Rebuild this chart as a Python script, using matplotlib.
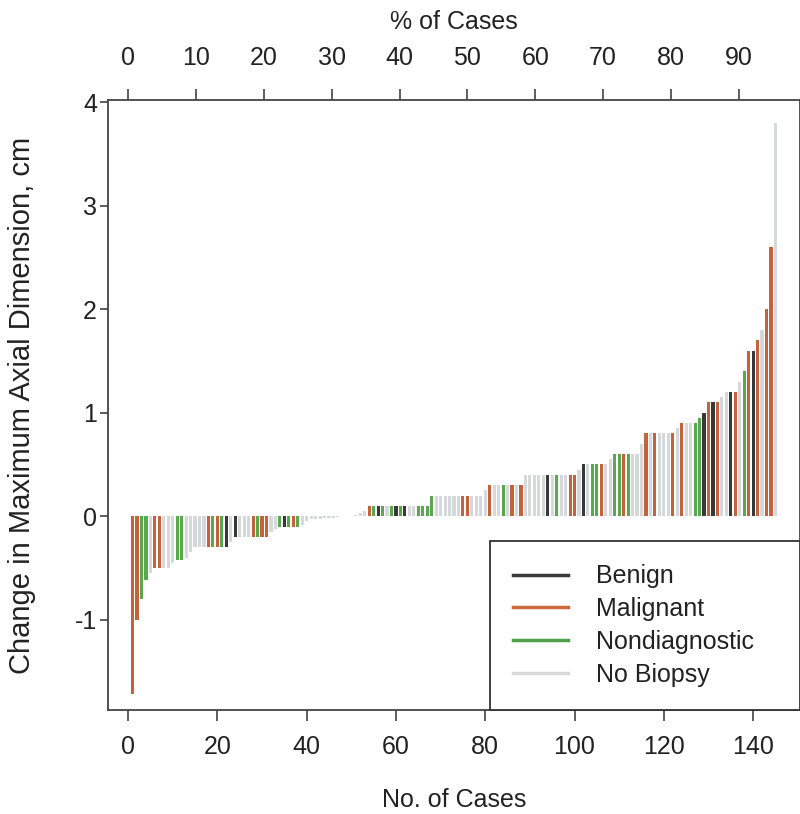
import matplotlib
matplotlib.use("Agg")
import matplotlib.pyplot as plt
from matplotlib.lines import Line2D

plt.rcParams["font.family"] = ["Liberation Sans", "DejaVu Sans"]

# sorted change in maximum axial dimension (cm), one value per case
values = [
    -1.72, -1.00, -0.80, -0.62, -0.55, -0.50, -0.50, -0.50, -0.50, -0.45,
    -0.42, -0.42, -0.40, -0.35, -0.30, -0.30, -0.30, -0.30, -0.30, -0.30,
    -0.30, -0.30, -0.25, -0.20, -0.20, -0.20, -0.20, -0.20, -0.20, -0.20,
    -0.20, -0.15, -0.12, -0.10, -0.10, -0.10, -0.10, -0.10, -0.08, -0.05,
    -0.03, -0.03, -0.03, -0.02, -0.02, -0.02, -0.01, 0.00, 0.00, 0.00,
    0.01, 0.03, 0.05, 0.10, 0.10, 0.10, 0.10, 0.10, 0.10, 0.10,
    0.10, 0.10, 0.10, 0.10, 0.10, 0.10, 0.10, 0.20, 0.20, 0.20,
    0.20, 0.20, 0.20, 0.20, 0.20, 0.20, 0.20, 0.20, 0.20, 0.25,
    0.30, 0.30, 0.30, 0.30, 0.30, 0.30, 0.30, 0.30, 0.40, 0.40,
    0.40, 0.40, 0.40, 0.40, 0.40, 0.40, 0.40, 0.40, 0.40, 0.40,
    0.45, 0.50, 0.50, 0.50, 0.50, 0.50, 0.50, 0.55, 0.60, 0.60,
    0.60, 0.60, 0.60, 0.60, 0.70, 0.80, 0.80, 0.80, 0.80, 0.80,
    0.80, 0.80, 0.85, 0.90, 0.90, 0.90, 0.90, 0.95, 1.00, 1.10,
    1.10, 1.10, 1.15, 1.20, 1.20, 1.20, 1.30, 1.40, 1.60, 1.60,
    1.70, 1.80, 2.00, 2.60, 3.80,
]

# B = Benign, M = Malignant, N = Nondiagnostic, X = No Biopsy
groups = list(
    "MMNNXMMXXX"
    "NNXXXXXMNM"
    "NBXBXXXMNM"
    "MXXNBNMNXX"
    "XXXXXXXXXX"
    "XXXMNBNXNB"
    "NBXXNNNNXX"
    "XXXXMMXXXX"
    "MXXNXMXMXX"
    "XXXBXNXXMM"
    "XBXNNMXXNN"
    "MNXXXMXMXX"
    "XMXMXXNNBM"
    "BMXXBMXNMB"
    "MXMMX"
)

legend_labels = ["Benign", "Malignant", "Nondiagnostic", "No Biopsy"]
bar_colors = {"B": "#383838", "M": "#c4623a", "N": "#58a84e", "X": "#d6d9db"}
line_colors = ["#3a3a3a", "#cd6a3c", "#4fa048", "#d9d9d9"]

n_cases = len(values)
cases = list(range(1, n_cases + 1))
pct_base = 152  # denominator used for the top % axis

fig = plt.figure(figsize=(8.0, 8.14), dpi=100)
ax = fig.add_axes([0.135, 0.128, 0.865, 0.749])

ax.bar(cases, values, width=0.7, color=[bar_colors[g] for g in groups], linewidth=0)

ax.set_xlim(-4.5, 150.5)
ax.set_ylim(-1.87, 4.02)

ax.set_xticks(range(0, 141, 20))
ax.set_yticks(range(-1, 5))
ax.set_yticklabels(["-1", "0", "1", "2", "3", "4"])
ax.tick_params(axis="both", direction="out", length=8, width=1.1, colors="#333333",
               labelsize=18, labelcolor="#222222")
ax.tick_params(axis="x", pad=10)
ax.tick_params(axis="y", pad=2, length=6)

for s in ax.spines.values():
    s.set_linewidth(1.3)
    s.set_color("#444444")

ax.set_xlabel("No. of Cases", fontsize=18, color="#222222")
ax.xaxis.set_label_coords(0.5, -0.148)
ax.xaxis.label.set_va("center")
ax.set_ylabel("Change in Maximum Axial Dimension, cm", fontsize=21, color="#222222")
ax.yaxis.set_label_coords(-0.124, 0.5)
ax.yaxis.label.set_va("center")

top = ax.secondary_xaxis("top", functions=(lambda x: x / pct_base * 100,
                                          lambda p: p * pct_base / 100))
top.set_xticks(range(0, 91, 10))
top.tick_params(direction="out", length=8, width=1.1, colors="#333333",
                labelsize=18, labelcolor="#222222", pad=14)
top.spines["top"].set_visible(False)
top.set_xlabel("% of Cases", fontsize=18, color="#222222", labelpad=12)

handles = [Line2D([0], [0], color=c, lw=2.5) for c in line_colors]
leg = ax.legend(handles, legend_labels, loc="lower left",
                bbox_to_anchor=(0.552, 0.0, 0.448, 0.284), mode="expand",
                borderaxespad=0, fancybox=False, edgecolor="#333333", fontsize=18,
                handlelength=2.2, handletextpad=1.1, labelspacing=0.35,
                borderpad=0.93, framealpha=1)
leg.get_frame().set_linewidth(1.3)
for t in leg.get_texts():
    t.set_color("#222222")

fig.savefig("out.png", dpi=100)
